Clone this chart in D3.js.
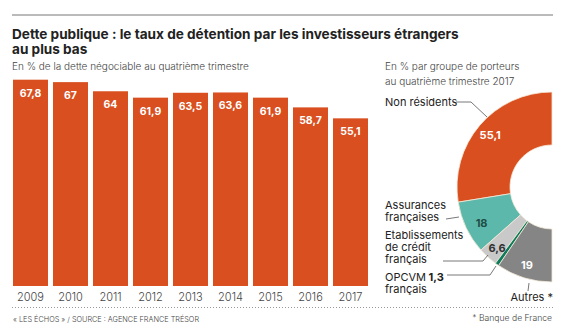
<!DOCTYPE html>
<html>
<head>
<meta charset="utf-8">
<script src="https://cdn.jsdelivr.net/npm/d3@7"></script>
<style>
  body { margin: 0; background: #fff; }
  svg { display: block; font-family: Inter, "Open Sans", sans-serif; }
</style>
</head>
<body>
<script>
const years = ["2009", "2010", "2011", "2012", "2013", "2014", "2015", "2016", "2017"];
const rates = [67.8, 67, 64, 61.9, 63.5, 63.6, 61.9, 58.7, 55.1];

const holders = ["Non résidents", "Assurances françaises", "Etablissements de crédit français", "OPCVM français", "Autres *"];
const shares = [55.1, 18, 6.6, 1.3, 19];

const width = 561, height = 330;
const orange = '#d94f1f';
const fmt = v => String(v).replace('.', ',');

const svg = d3.select("body").append("svg")
    .attr("width", width)
    .attr("height", height);

// top rule
svg.append("line")
    .attr("x1", 12).attr("x2", 553)
    .attr("y1", 15).attr("y2", 15)
    .attr("stroke", "#777").attr("stroke-width", 1);

// title
const title = svg.append("text")
    .attr("x", 12)
    .attr("font-size", 13.6)
    .attr("font-weight", 700)
    .attr("fill", "#222");
title.append("tspan").attr("x", 12).attr("y", 39)
    .text("Dette publique : le taux de détention par les investisseurs étrangers");
title.append("tspan").attr("x", 12).attr("y", 54)
    .text("au plus bas");

svg.append("text")
    .attr("x", 12).attr("y", 70)
    .attr("font-size", 10)
    .attr("font-weight", 300)
    .attr("fill", "#444")
    .text("En % de la dette négociable au quatrième trimestre");

// bars
const x = d3.scaleBand()
    .domain(years)
    .range([13, 368])
    .paddingInner(0.125)
    .paddingOuter(0);
const y = d3.scaleLinear()
    .domain([0, 70])
    .range([286, 73]);

const xAxis = d3.axisBottom(x).tickSize(0).tickPadding(7);

svg.selectAll(".bar")
    .data(rates)
    .enter().append("rect")
    .attr("class", "bar")
    .attr("x", (d, i) => x(years[i]))
    .attr("y", d => y(d))
    .attr("width", x.bandwidth())
    .attr("height", d => y(0) - y(d))
    .attr("fill", orange);

svg.selectAll(".bar-label")
    .data(rates)
    .enter().append("text")
    .attr("class", "bar-label")
    .attr("x", (d, i) => x(years[i]) + x.bandwidth() / 2)
    .attr("y", d => y(d) + 17)
    .attr("text-anchor", "middle")
    .attr("font-size", 10.5)
    .attr("font-weight", 700)
    .attr("fill", "#fff")
    .text(d => fmt(d));

const gx = svg.append("g")
    .attr("class", "x axis")
    .attr("transform", "translate(0," + y(0) + ")")
    .call(xAxis);
gx.select(".domain").remove();
gx.selectAll("text")
    .attr("font-size", 11)
    .attr("font-weight", 300)
    .attr("fill", "#444")
    .attr("font-family", "Inter, sans-serif");

// dotted separator + sources
svg.append("line")
    .attr("x1", 12).attr("x2", 553)
    .attr("y1", 307.5).attr("y2", 307.5)
    .attr("stroke", "#999")
    .attr("stroke-dasharray", "1,2");

svg.append("text")
    .attr("x", 13).attr("y", 322)
    .attr("font-size", 7.3)
    .attr("font-weight", 300)
    .attr("fill", "#444")
    .text("« LES ÉCHOS » / SOURCE : AGENCE FRANCE TRÉSOR");

svg.append("text")
    .attr("x", 552).attr("y", 321)
    .attr("text-anchor", "end")
    .attr("font-size", 8.6)
    .attr("font-weight", 300)
    .attr("fill", "#444")
    .text("* Banque de France");

// donut
const sub2 = svg.append("text")
    .attr("font-size", 10)
    .attr("font-weight", 300)
    .attr("fill", "#444");
sub2.append("tspan").attr("x", 385).attr("y", 70).text("En % par groupe de porteurs");
sub2.append("tspan").attr("x", 385).attr("y", 85).text("au quatrième trimestre 2017");

const cx = 552, cy = 187;
const pie = d3.pie().sort(null).startAngle(0).endAngle(-Math.PI);
const arc = d3.arc().innerRadius(42).outerRadius(95);
const arcs = pie(shares);
const sliceColors = [orange, '#5cb8aa', '#c9c9c9', '#0e7c5c', '#858585'];

const g = svg.append("g").attr("transform", "translate(" + cx + "," + cy + ")");
g.selectAll("path")
    .data(arcs)
    .enter().append("path")
    .attr("d", arc)
    .attr("fill", (d, i) => sliceColors[i])
    .attr("stroke", "#f4ead8")
    .attr("stroke-width", 0.8);

// values inside slices (nudged like the original)
const valueColors = ['#fff', '#1f4d47', '#333', '#000', '#fff'];
const nudges = [[-10, -8], [-9, 7], [-9, 11], [0, 0], [-5, 13]];
const valueArc = d3.arc().innerRadius(68).outerRadius(68);
arcs.forEach((d, i) => {
  if (i === 3) return;
  const c = valueArc.centroid(d);
  g.append("text")
      .attr("x", c[0] + nudges[i][0]).attr("y", c[1] + nudges[i][1] + 4)
      .attr("text-anchor", "middle")
      .attr("font-size", 11)
      .attr("font-weight", 700)
      .attr("fill", valueColors[i])
      .text(fmt(shares[i]));
});

// labels and leaders
const lab = svg.append("g")
    .attr("font-size", 11)
    .attr("fill", "#222");

function multiline(lines, x0, y0, lh) {
  const t = lab.append("text");
  lines.forEach((s, k) => t.append("tspan").attr("x", x0).attr("y", y0 + k * lh).text(s));
  return t;
}
multiline(["Non résidents"], 385, 106, 12);
multiline(["Assurances", "françaises"], 385, 209, 12);
multiline(["Etablissements", "de crédit", "français"], 385, 239, 12);
const op = multiline(["OPCVM", "français"], 385, 281, 12);
op.select("tspan").append("tspan").attr("font-weight", 700).text(" " + fmt(shares[3]));

lab.append("text")
    .attr("x", 553).attr("y", 301)
    .attr("text-anchor", "end")
    .text(holders[4]);

const leader = d3.line();
const leaders = [
  [[456, 102], [471, 102], [487, 117]],
  [[446, 219], [459, 217]],
  [[443, 261], [483, 261], [488, 255]],
  [[447, 275], [490, 275], [496, 266]],
  [[529, 283], [528, 291]]
];
svg.selectAll(".leader")
    .data(leaders)
    .enter().append("path")
    .attr("class", "leader")
    .attr("d", leader)
    .attr("fill", "none")
    .attr("stroke", "#555")
    .attr("stroke-width", 0.8);
</script>
</body>
</html>
